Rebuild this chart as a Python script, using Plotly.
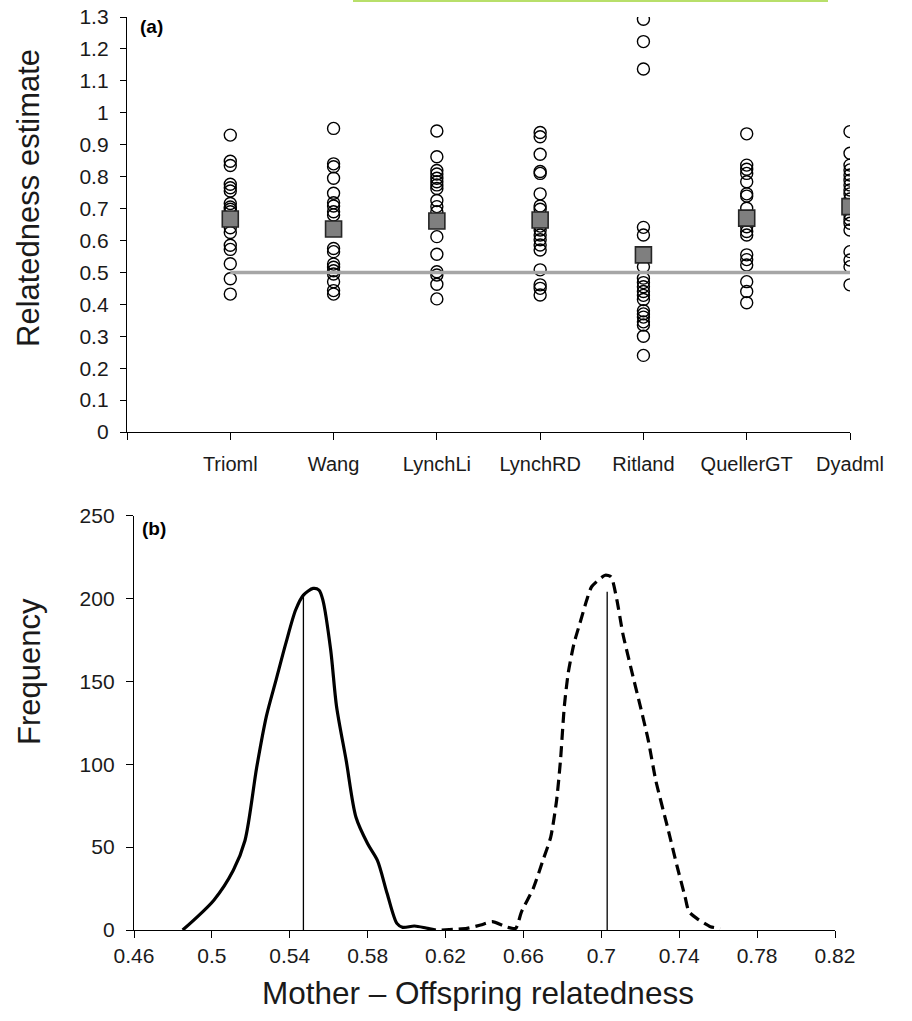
import plotly.graph_objects as go

# ---- Panel (a): relatedness estimates per estimator ----
estimators = ["Trioml", "Wang", "LynchLi", "LynchRD", "Ritland", "QuellerGT", "Dyadml"]

trioml = [0.930, 0.848, 0.835, 0.776, 0.765, 0.755, 0.716, 0.705, 0.698, 0.690,
          0.640, 0.625, 0.585, 0.572, 0.527, 0.480, 0.432]
wang = [0.951, 0.840, 0.831, 0.795, 0.748, 0.718, 0.708, 0.690, 0.680, 0.575,
        0.565, 0.526, 0.516, 0.505, 0.495, 0.471, 0.443, 0.432]
lynchli = [0.943, 0.862, 0.819, 0.808, 0.795, 0.784, 0.774, 0.763, 0.725, 0.706,
           0.690, 0.612, 0.557, 0.502, 0.492, 0.463, 0.417]
lynchrd = [0.938, 0.925, 0.870, 0.816, 0.810, 0.746, 0.708, 0.698, 0.645, 0.633,
           0.617, 0.602, 0.586, 0.570, 0.508, 0.461, 0.450, 0.429]
ritland = [1.293, 1.223, 1.137, 0.641, 0.617, 0.518, 0.482, 0.468, 0.455, 0.440,
           0.428, 0.415, 0.380, 0.370, 0.360, 0.345, 0.335, 0.300, 0.240]
quellergt = [0.934, 0.836, 0.823, 0.810, 0.784, 0.746, 0.739, 0.701, 0.643, 0.628,
             0.617, 0.555, 0.540, 0.523, 0.471, 0.440, 0.405]
dyadml = [0.941, 0.873, 0.836, 0.821, 0.805, 0.789, 0.774, 0.758, 0.746, 0.730,
          0.680, 0.666, 0.654, 0.633, 0.565, 0.539, 0.518, 0.461]

estimates = [trioml, wang, lynchli, lynchrd, ritland, quellergt, dyadml]
mean_estimates = [0.667, 0.636, 0.661, 0.664, 0.555, 0.670, 0.706]
expected_r = 0.5

# ---- Panel (b): distributions of mother-offspring relatedness ----
solid_x = [0.485, 0.501, 0.511, 0.517, 0.523, 0.528, 0.533, 0.538, 0.543, 0.547,
           0.552, 0.555, 0.557, 0.561, 0.564, 0.569, 0.574, 0.580, 0.585, 0.590,
           0.595, 0.598, 0.604, 0.610, 0.615]
solid_f = [0, 18, 36, 54, 98, 129, 151, 173, 193, 202,
           206, 205, 199, 169, 135, 102, 68, 52, 42, 22,
           4, 1.6, 2.4, 1.2, 0]
dash_x = [0.618, 0.631, 0.638, 0.644, 0.651, 0.656, 0.659, 0.665, 0.670, 0.674,
          0.677, 0.679, 0.681, 0.683, 0.686, 0.689, 0.6925, 0.695, 0.702, 0.705,
          0.708, 0.711, 0.715, 0.720, 0.724, 0.728, 0.734, 0.739, 0.743, 0.745,
          0.749, 0.756, 0.761]
dash_f = [0, 1, 3, 5, 2, 1, 11, 25, 42, 56,
          78, 102, 135, 155, 173, 185, 199, 207, 214, 213,
          199, 179, 159, 135, 115, 90, 62, 38, 20, 11,
          7, 2, 1]
solid_mean, solid_mean_top = 0.547, 202
dash_mean, dash_mean_top = 0.703, 204

FONT = "Liberation Sans, Arial, sans-serif"
W, H = 912, 1021


def px(x):
    return x / W


def py(y):
    return 1 - y / H


fig = go.Figure()

# open circles for individual estimates
for i, vals in enumerate(estimates, start=1):
    fig.add_trace(go.Scatter(
        x=[i] * len(vals), y=vals, mode="markers",
        marker=dict(symbol="circle-open", size=12, color="black", line=dict(width=1.4)),
        xaxis="x", yaxis="y", showlegend=False, hoverinfo="y"))

# expected relatedness reference line
fig.add_trace(go.Scatter(
    x=[1, len(estimators)], y=[expected_r, expected_r], mode="lines",
    line=dict(color="#a6a6a6", width=3.5), xaxis="x", yaxis="y",
    showlegend=False, hoverinfo="skip"))

# mean squares
fig.add_trace(go.Scatter(
    x=list(range(1, len(estimators) + 1)), y=mean_estimates, mode="markers",
    marker=dict(symbol="square", size=16, color="#7f7f7f",
                line=dict(color="#262626", width=1.6)),
    xaxis="x", yaxis="y", showlegend=False))

# distribution curves
fig.add_trace(go.Scatter(
    x=solid_x, y=solid_f, mode="lines",
    line=dict(color="black", width=3.2, shape="spline", smoothing=0.8),
    xaxis="x2", yaxis="y2", showlegend=False))
fig.add_trace(go.Scatter(
    x=dash_x, y=dash_f, mode="lines",
    line=dict(color="black", width=3.2, dash="11px,6px", shape="spline", smoothing=0.6),
    xaxis="x2", yaxis="y2", showlegend=False))

# mean markers as vertical lines
for m, top in [(solid_mean, solid_mean_top), (dash_mean, dash_mean_top)]:
    fig.add_trace(go.Scatter(
        x=[m, m], y=[0, top], mode="lines", line=dict(color="black", width=1.3),
        xaxis="x2", yaxis="y2", showlegend=False, hoverinfo="skip"))

axis_common = dict(showline=True, linecolor="black", linewidth=1.3, showgrid=False,
                   zeroline=False, ticks="outside", tickcolor="black", tickwidth=1.3,
                   automargin=False,
                   tickfont=dict(family=FONT, size=21, color="#1a1a1a"))

fig.update_layout(
    template="none",
    width=W, height=H,
    margin=dict(l=0, r=0, t=0, b=0, pad=0),
    paper_bgcolor="white", plot_bgcolor="white",
    xaxis=dict(axis_common, domain=[px(127), px(850)], range=[0, 7],
               tickvals=list(range(0, 8)), ticktext=[""] + estimators,
               ticklen=7, anchor="y", ticklabelstandoff=7,
               tickfont=dict(family=FONT, size=20, color="#1a1a1a")),
    yaxis=dict(axis_common, domain=[py(432), py(17)], range=[0, 1.3],
               tick0=0, dtick=0.1, ticklen=6, anchor="x", ticklabelstandoff=7),
    xaxis2=dict(axis_common, domain=[px(134), px(835)], range=[0.46, 0.82],
                tick0=0.46, dtick=0.04, ticklen=7, anchor="y2"),
    yaxis2=dict(axis_common, domain=[py(930), py(515.5)], range=[0, 250],
                tick0=0, dtick=50, ticklen=7, anchor="x2", ticklabelstandoff=7),
    annotations=[
        dict(text="Relatedness estimate", x=px(28), y=py(198), xref="paper", yref="paper",
             textangle=-90, showarrow=False, xanchor="center", yanchor="middle",
             font=dict(family=FONT, size=31, color="#1a1a1a")),
        dict(text="Frequency", x=px(29), y=py(672), xref="paper", yref="paper",
             textangle=-90, showarrow=False, xanchor="center", yanchor="middle",
             font=dict(family=FONT, size=31, color="#1a1a1a")),
        dict(text="Mother \u2013 Offspring relatedness", x=px(478), y=py(993),
             xref="paper", yref="paper", showarrow=False,
             xanchor="center", yanchor="middle",
             font=dict(family=FONT, size=31.5, color="#1a1a1a")),
        dict(text="<b>(a)</b>", x=px(138), y=py(26), xref="paper", yref="paper",
             showarrow=False, xanchor="left", yanchor="middle",
             font=dict(family=FONT, size=19, color="black")),
        dict(text="<b>(b)</b>", x=px(140), y=py(528), xref="paper", yref="paper",
             showarrow=False, xanchor="left", yanchor="middle",
             font=dict(family=FONT, size=19, color="black")),
    ],
    shapes=[
        dict(type="line", xref="paper", yref="paper", x0=px(353), x1=px(828),
             y0=py(1), y1=py(1), line=dict(color="#b8df6a", width=2)),
    ],
)

fig.write_html("out.html")
